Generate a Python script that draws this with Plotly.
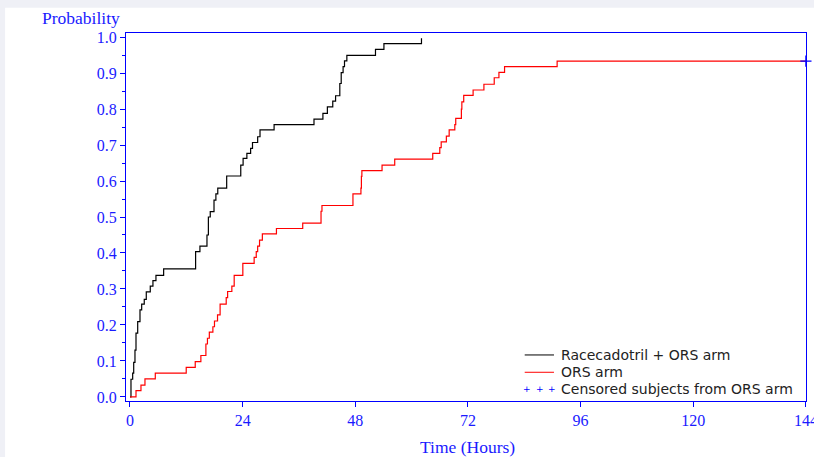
import plotly.graph_objects as go

# ---------------- data ----------------
race_time = [0, 0.21, 0.57, 0.79, 1.06, 1.28, 1.64, 2.13, 2.49, 3.04, 3.47, 4.32, 4.89, 5.53,
             7.17, 13.98, 14.9, 16.4, 16.7, 17.1, 17.9, 18.3, 18.7, 20.6, 23.6, 24.1, 24.9,
             25.7, 26.1, 27.2, 27.7, 30.7, 39.2, 41.1, 42.05, 43.2, 43.8, 44.7, 45.0, 45.4,
             45.7, 46.2, 52.3, 54.1, 62.1]
race_prob = [0, 0.049, 0.066, 0.096, 0.13, 0.177, 0.209, 0.242, 0.258, 0.271, 0.292, 0.308,
             0.323, 0.338, 0.356, 0.404, 0.419, 0.45, 0.50, 0.515, 0.547, 0.564, 0.58, 0.614,
             0.644, 0.663, 0.677, 0.691, 0.707, 0.723, 0.742, 0.757, 0.772, 0.788, 0.806,
             0.822, 0.837, 0.871, 0.901, 0.918, 0.934, 0.949, 0.966, 0.982, 0.997]

ors_time = [0, 1.28, 2.34, 3.19, 5.39, 11.98, 13.9, 15.1, 16.17, 16.5, 16.9, 17.66, 18.0,
            18.65, 19.2, 20.5, 20.8, 21.7, 22.2, 24.04, 26.45, 26.9, 27.2, 27.6, 28.2, 31.2,
            36.8, 40.7, 40.9, 47.5, 49.2, 49.3, 49.4, 53.7, 56.4, 64.5, 66.0, 66.3, 67.4,
            68.0, 69.2, 69.4, 70.6, 70.7, 71.1, 73.1, 75.4, 77.6, 78.6, 79.8, 91.0, 144]
ors_prob = [0, 0.0176, 0.033, 0.05, 0.066, 0.082, 0.098, 0.115, 0.147, 0.163, 0.18, 0.195,
            0.211, 0.228, 0.258, 0.276, 0.293, 0.308, 0.338, 0.371, 0.388, 0.404, 0.419,
            0.436, 0.453, 0.468, 0.483, 0.516, 0.532, 0.564, 0.58, 0.613, 0.629, 0.644,
            0.661, 0.677, 0.693, 0.709, 0.725, 0.742, 0.757, 0.774, 0.80, 0.82, 0.838,
            0.853, 0.869, 0.887, 0.902, 0.918, 0.933, 0.933]

cens_time = [144]
cens_prob = [0.933]

x_ticks = [0, 24, 48, 72, 96, 120, 144]
y_ticks = [0.0, 0.1, 0.2, 0.3, 0.4, 0.5, 0.6, 0.7, 0.8, 0.9, 1.0]
y_tick_labels = ["0.0", "0.1", "0.2", "0.3", "0.4", "0.5", "0.6", "0.7", "0.8", "0.9", "1.0"]

legend_names = ["Racecadotril + ORS arm", "ORS arm", "Censored subjects from ORS arm"]

# ---------------- styling ----------------
BLUE = "#0000ff"
TXT_BLUE = "#1a1aff"
GRAY_BG = "#eff0f6"
SERIF = "Liberation Serif, Times New Roman, serif"
SANS = "DejaVu Sans, Verdana, sans-serif"

fig = go.Figure()
fig.add_trace(go.Scatter(x=race_time, y=race_prob, mode="lines", line_shape="hv",
                         line=dict(color="black", width=1.2), name=legend_names[0],
                         showlegend=False))
fig.add_trace(go.Scatter(x=ors_time, y=ors_prob, mode="lines", line_shape="hv",
                         line=dict(color="#ff0000", width=1.2), name=legend_names[1],
                         showlegend=False))
fig.add_trace(go.Scatter(x=cens_time, y=cens_prob, mode="markers", cliponaxis=False,
                         marker=dict(symbol="cross-thin", size=8,
                                     line=dict(color=BLUE, width=1.3)),
                         name=legend_names[2], showlegend=False))

# plot area geometry in pixels (for placing decorations)
L, R, T, B = 126, 806.5, 33.3, 401.0
W, H = 814, 457
pw, ph = R - L, B - T


def px(xp):
    return (xp - L) / pw


def py(yp):
    return (B - yp) / ph


shapes = [
    dict(type="rect", xref="paper", yref="paper", x0=px(5), x1=px(W + 5), y0=py(8), y1=py(H + 5),
         fillcolor="white", line=dict(width=0), layer="below"),
]

# manual legend
rows = [355, 372.3, 389.3]
shapes.append(dict(type="line", xref="paper", yref="paper", x0=px(525), x1=px(554.3),
                   y0=py(rows[0]), y1=py(rows[0]), line=dict(color="black", width=1)))
shapes.append(dict(type="line", xref="paper", yref="paper", x0=px(525), x1=px(554.3),
                   y0=py(rows[1]), y1=py(rows[1]), line=dict(color="#ff0000", width=1)))

annotations = []
for i, name in enumerate(legend_names):
    annotations.append(dict(text=name, xref="paper", yref="paper", x=px(559.5), y=py(rows[i]),
                            xanchor="left", yanchor="middle", showarrow=False,
                            font=dict(family=SANS, size=14, color="#222222")))
for xp_ in [527.7, 540.0, 552.3]:
    annotations.append(dict(text="+", xref="paper", yref="paper", x=px(xp_), y=py(rows[2]),
                            xanchor="center", yanchor="middle", showarrow=False,
                            font=dict(family=SANS, size=9, color=BLUE)))

annotations.append(dict(text="Probability", xref="paper", yref="paper", x=px(81), y=py(18),
                        xanchor="center", yanchor="middle", showarrow=False,
                        font=dict(family=SERIF, size=17.5, color=TXT_BLUE)))
annotations.append(dict(text="Time (Hours)", xref="paper", yref="paper", x=px(468), y=py(447),
                        xanchor="center", yanchor="middle", showarrow=False,
                        font=dict(family=SERIF, size=17.5, color=TXT_BLUE)))

fig.update_layout(
    width=W, height=H,
    margin=dict(l=L, r=W - R, t=T, b=H - B, pad=0, autoexpand=False),
    paper_bgcolor=GRAY_BG, plot_bgcolor="white",
    shapes=shapes, annotations=annotations,
    showlegend=False,
)

fig.update_xaxes(range=[-0.85, 144.02], tickvals=x_ticks, ticktext=[str(v) for v in x_ticks],
                 showgrid=False, zeroline=False, showline=True, linecolor=BLUE, linewidth=1.2,
                 mirror=True, ticks="outside", ticklen=5, tickcolor=BLUE, tickwidth=1.2,
                 ticklabeloverflow="allow", automargin=False,
                 tickfont=dict(family=SERIF, size=16, color=TXT_BLUE))
fig.update_yaxes(range=[-0.0114, 1.0114], tickvals=y_ticks, ticktext=y_tick_labels,
                 showgrid=False, zeroline=False, showline=True, linecolor=BLUE, linewidth=1.2,
                 mirror=True, ticks="outside", ticklen=5, tickcolor=BLUE, tickwidth=1.2,
                 automargin=False,
                 tickfont=dict(family=SERIF, size=16, color=TXT_BLUE),
                 minor=dict(tickvals=[v + 0.05 for v in y_ticks[:-1]], ticks="outside",
                            ticklen=3, tickcolor=BLUE, tickwidth=1, showgrid=False))

fig.write_html(
    "out.html",
    config={"displayModeBar": False},
    post_script="document.body.style.margin='0';document.body.style.padding='0';"
                "document.body.style.overflow='hidden';"
                "document.body.style.background='" + GRAY_BG + "';",
)
